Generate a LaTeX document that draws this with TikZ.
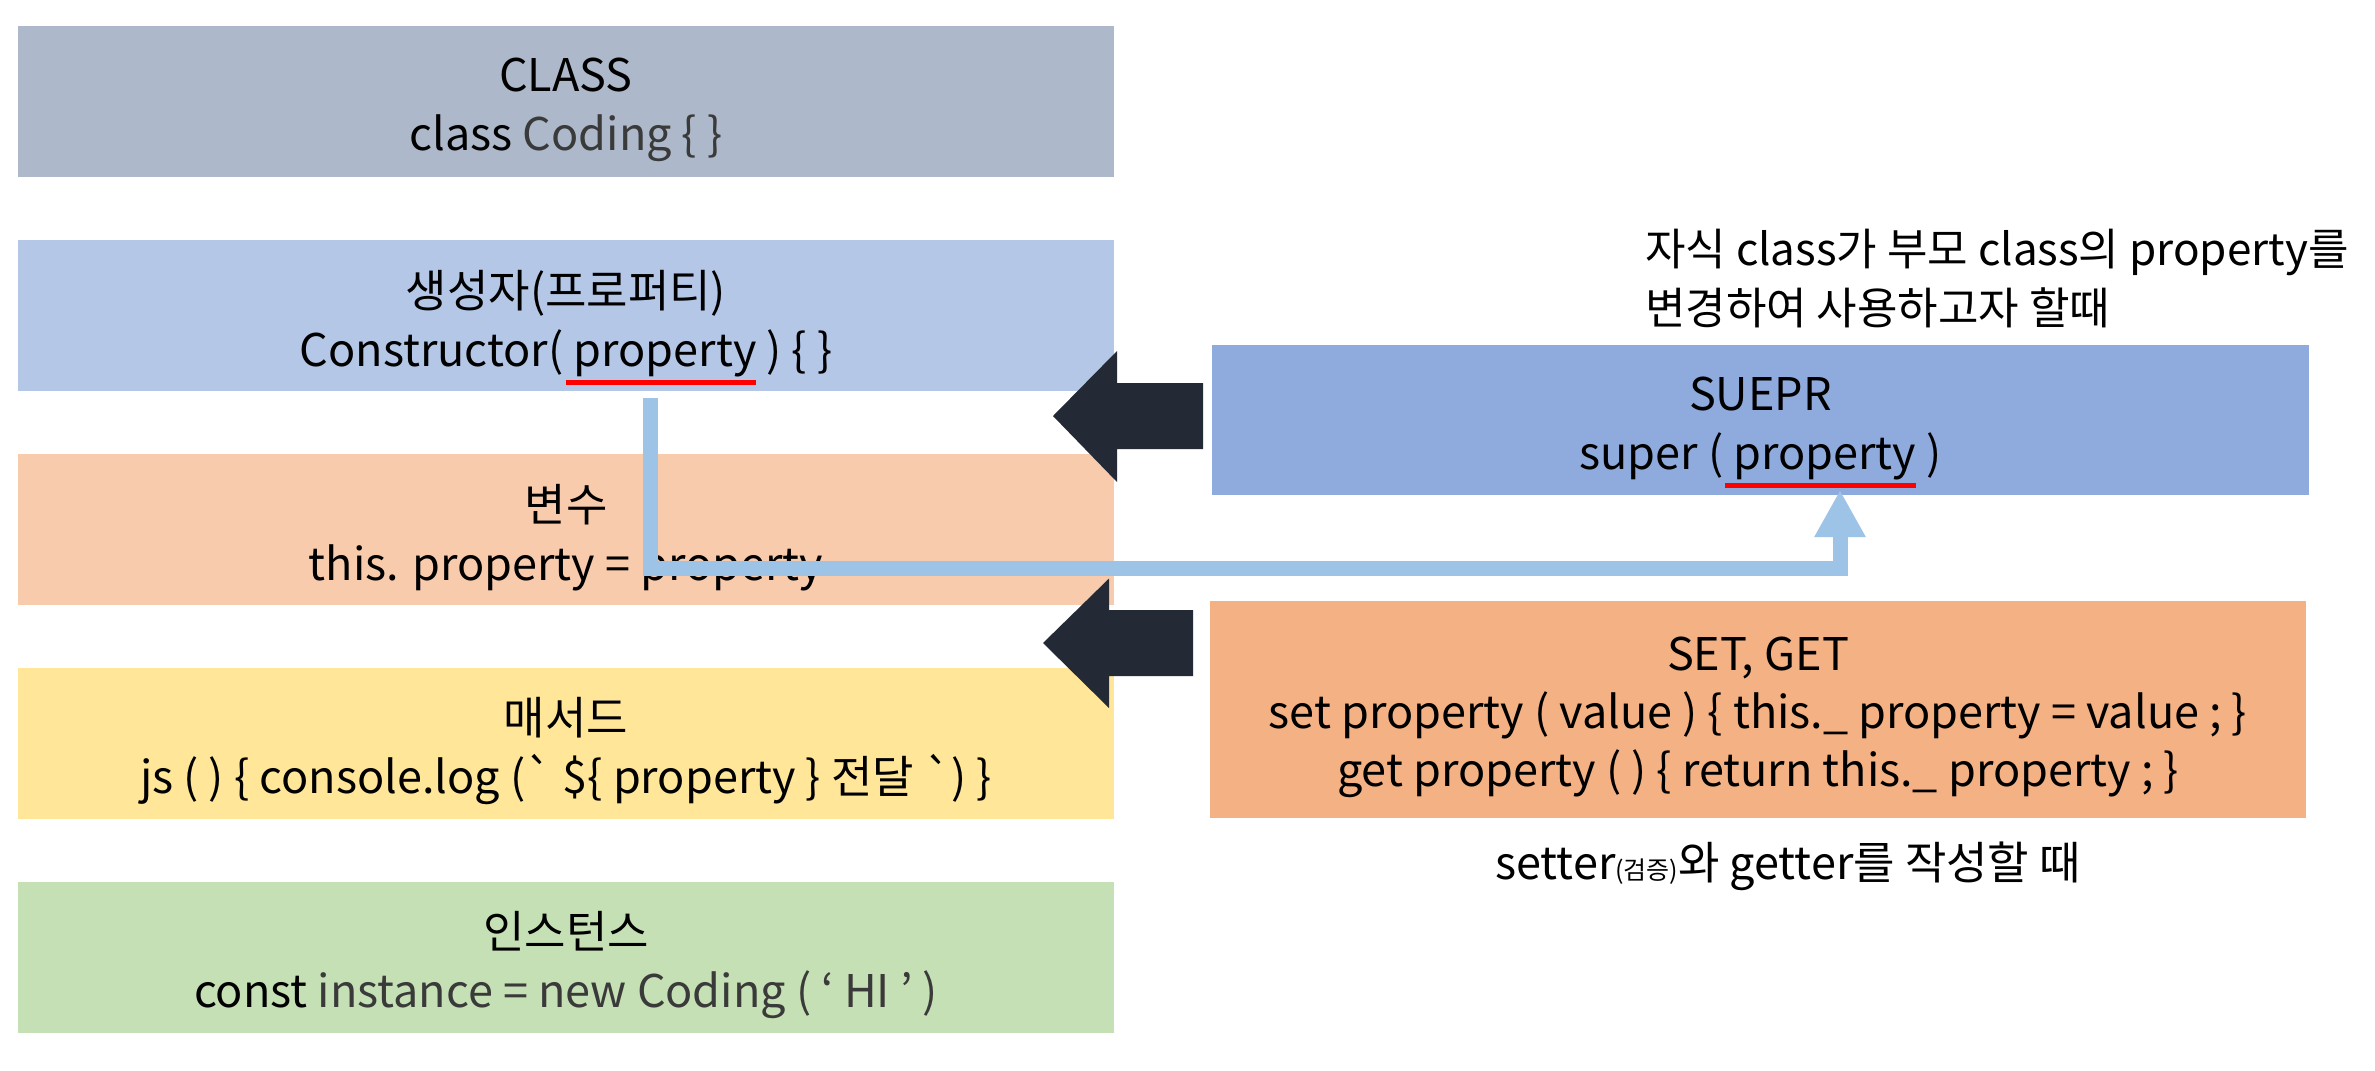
\documentclass[tikz,border=0pt]{standalone}
\usepackage{fontspec}
\setmainfont[Ligatures=TeXOff]{Noto Sans CJK KR}
\usetikzlibrary{arrows.meta}
\definecolor{cClass}{HTML}{ADB9CA}
\definecolor{cCtor}{HTML}{B4C7E7}
\definecolor{cVar}{HTML}{F8CBAD}
\definecolor{cMeth}{HTML}{FFE699}
\definecolor{cInst}{HTML}{C5E0B4}
\definecolor{cSup}{HTML}{8FAADC}
\definecolor{cSet}{HTML}{F4B183}
\definecolor{cLink}{HTML}{9DC3E6}
\definecolor{cDark}{HTML}{232A35}
\definecolor{cGray}{HTML}{3A3A3A}
\definecolor{ulred}{HTML}{FF0000}
\newcommand\redul[1]{\setbox0\hbox{#1}\rlap{\kern-8pt\raisebox{-19pt}[0pt][0pt]{\color{ulred}\rule{\dimexpr\wd0+8pt\relax}{5.5pt}}}\box0\relax}
\tikzset{
  box/.style={rectangle, inner sep=0pt, minimum width=1096pt, minimum height=151pt},
  boxtxt/.style={inner sep=0pt, align=center, font=\fontsize{45}{59}\selectfont},
  txt/.style={inner sep=0pt, font=\fontsize{45}{59}\selectfont},
  link/.style={draw=cLink, line width=15pt, -{Triangle[width=48pt,length=47pt]}},
  darkarrow/.style={fill=cDark},
}
\begin{document}
\begin{tikzpicture}[x=1pt,y=-1pt]
\useasboundingbox (0,0) rectangle (2375,1071);
\fill[white] (0,0) rectangle (2375,1071);
% left column
\node[box, fill=cClass] (cls) at (566,101.5) {};
\node[boxtxt] (clsT) at ([yshift=-8pt]cls.center) {CLASS\\class {\color{cGray}Coding \{ \}}};
\node[box, fill=cCtor] (ctor) at (566,315.5) {};
\node[boxtxt] (ctorT) at ([yshift=-8pt]ctor.center) {생성자(프로퍼티)\\Constructor( \redul{property} ) \{ \}};
\node[box, fill=cVar] (var) at (566,529.5) {};
\node[boxtxt] (varT) at ([yshift=-8pt]var.center) {변수\\this. property = property};
\node[box, fill=cMeth] (meth) at (566,743) {};
\node[boxtxt] (methT) at ([yshift=-8pt]meth.center) {매서드\\js ( ) \{ console.log (` \$\{ property \} 전달 `) \}};
\node[box, fill=cInst] (inst) at (566,957) {};
\node[boxtxt] (instT) at ([yshift=-8pt]inst.center) {인스턴스\\const {\color{cGray}instance = new Coding ( ‘ HI ’ )}};
% right column
\node[box, fill=cSup, minimum width=1097pt, minimum height=150pt] (sup) at (1760.5,420) {};
\node[boxtxt] (supT) at ([yshift=-8pt]sup.center) {SUEPR\\super ( \redul{property} )};
\node[box, fill=cSet, minimum height=217pt] (setget) at (1758,709.5) {};
\node[boxtxt, font=\fontsize{45}{58}\selectfont] (setgetT) at ([yshift=-8pt]setget.center)
  {SET, GET\\set property ( value ) \{ this.\_ property = value ; \}\\get property ( ) \{ return this.\_ property ; \}};
\node[txt, anchor=west, align=left, font=\fontsize{44}{59}\selectfont] (note) at (1645,279) {자식 class가 부모 class의 property를\\변경하여 사용하고자 할때};
\node[txt] (note2) at (1788,866) {setter{\fontsize{25}{28}\selectfont(검증)}와 getter를 작성할 때};
% dark arrows
\fill[darkarrow] (1053,416) -- (1117,351) -- (1117,383) -- (1203,383) -- (1203,449) -- (1117,449) -- (1117,482) -- cycle;
\fill[darkarrow] (1043,643) -- (1109,578.5) -- (1109,610) -- (1193,610) -- (1193,676) -- (1109,676) -- (1109,708) -- cycle;
% link from constructor property to super property
\coordinate (ls) at (650,398);
\coordinate (lc) at (1840,568);
\coordinate (le) at (1840,490);
\draw[link] (ls) |- (lc) -- (le);
\end{tikzpicture}
\end{document}
